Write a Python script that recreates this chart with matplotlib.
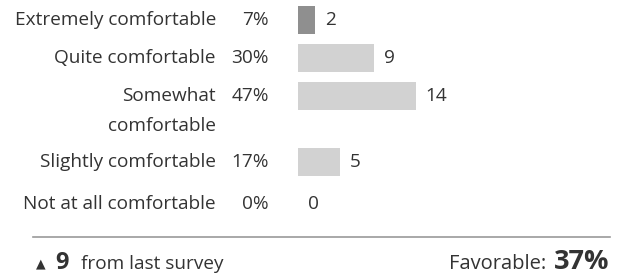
import matplotlib
matplotlib.use('Agg')
import matplotlib.pyplot as plt
from matplotlib.transforms import blended_transform_factory

# ---- data ----
labels = ["Extremely comfortable", "Quite comfortable", "Somewhat\ncomfortable",
          "Slightly comfortable", "Not at all comfortable"]
percents = [7, 30, 47, 17, 0]
counts = [2, 9, 14, 5, 0]
change = 9
favorable = 37

# ---- layout (pixel units) ----
W, H = 618, 276
row_y = [20, 58, 96, 162, 204]
bar_colors = ['#8f8f8f', '#d2d2d2', '#d2d2d2', '#d2d2d2', '#d2d2d2']
text_color = '#333333'
plt.rcParams['font.family'] = ['Open Sans', 'DejaVu Sans']

fig = plt.figure(figsize=(W / 100, H / 100), dpi=100)

# bar axes: starts at x=298px, top 0..222px
ax = fig.add_axes([298 / W, (H - 222) / H, 300 / W, 222 / H])
ax.set_xlim(0, 300 / 8.4)
ax.set_ylim(222, 0)
ax.axis('off')

ax.barh(row_y, counts, height=28, color=bar_colors, align='center')

trans = blended_transform_factory(fig.transFigure, ax.transData)
fs = 13.7
for y, lab, pct, cnt in zip(row_y, labels, percents, counts):
    lines = lab.split('\n')
    ax.text(216 / W, y, lines[0], transform=trans, ha='right', va='center',
            fontsize=fs, color=text_color)
    if len(lines) > 1:
        ax.text(216 / W, y + 30, lines[1], transform=trans, ha='right', va='center',
                fontsize=fs, color=text_color)
    ax.text(269 / W, y, f"{pct}%", transform=trans, ha='right', va='center',
            fontsize=fs, color=text_color)
    ax.text(cnt + 1.2, y, str(cnt), ha='left', va='center',
            fontsize=fs, color=text_color)

# separator line
fig.add_artist(plt.Line2D([33 / W, 610 / W], [1 - 237 / H, 1 - 237 / H],
                          color='#9a9a9a', linewidth=1.2))

# bottom row (baseline aligned)
yb = 1 - 269 / H
fig.text(36 / W, yb + 0.004, "\u25B2", fontsize=9, color=text_color, va='baseline', ha='left',
         family=['DejaVu Sans'])
fig.text(55 / W, yb, str(change), fontsize=17, fontweight='bold', color=text_color,
         va='baseline', ha='left')
fig.text(81 / W, yb, "from last survey", fontsize=fs, color=text_color,
         va='baseline', ha='left')
fig.text(546 / W, yb, "Favorable:", fontsize=14.5, color=text_color,
         va='baseline', ha='right')
fig.text(609 / W, yb, f"{favorable}%", fontsize=19.5, fontweight='bold',
         color=text_color, va='baseline', ha='right')

fig.savefig('out.png', dpi=100, facecolor='white')
